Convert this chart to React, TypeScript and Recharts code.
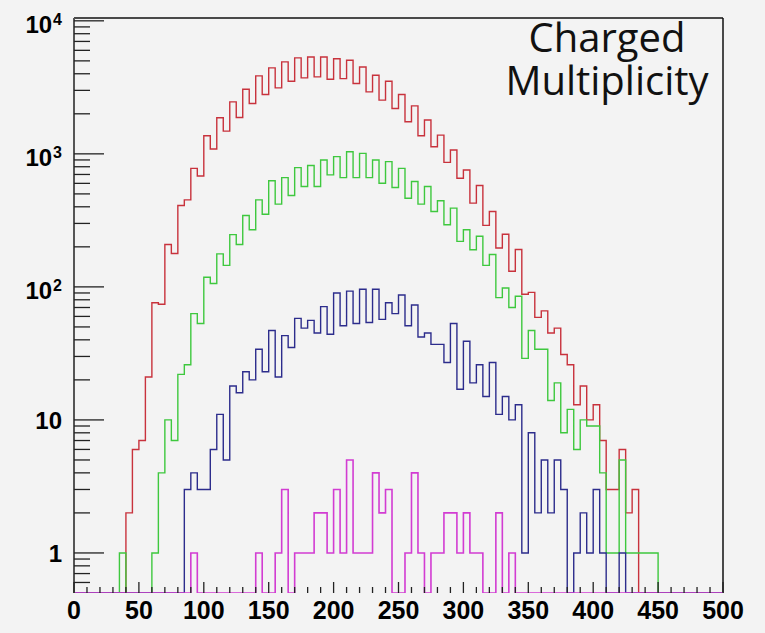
import React from "react";
import { LineChart, Line, XAxis, YAxis, ReferenceLine } from "recharts";

// Bin lower edges: 0, 5, 10, ..., 495 (100 bins of width 5)
const BIN_WIDTH = 5;
const N_BINS = 100;

const redCounts = [
  0, 0, 0, 0, 0, 0, 0, 0, 2, 6,
  7, 21, 76, 74, 208, 178, 409, 451, 778, 682,
  1368, 1088, 1866, 1483, 2460, 1876, 3063, 2390, 3855, 2790,
  4425, 3134, 4910, 3516, 5262, 3722, 5350, 3787, 5350, 3640,
  5190, 3680, 5050, 3376, 4500, 2925, 3900, 2535, 3516, 2195,
  2793, 1742, 2296, 1368, 1795, 1132, 1384, 863, 1070, 656,
  757, 426, 578, 290, 369, 196, 249, 131, 191, 88,
  91, 59, 66, 45, 49, 31, 26, 13, 18, 10,
  13, 7, 3, 3, 6, 2, 3, 0, 0, 0,
  0, 0, 0, 0, 0, 0, 0, 0, 0, 0,
];

const greenCounts = [
  0, 0, 0, 0, 0, 0, 0, 1, 0, 0,
  0, 0, 1, 4, 10, 7, 22, 26, 63, 53,
  118, 106, 177, 145, 247, 208, 344, 269, 451, 352,
  627, 419, 663, 486, 788, 568, 817, 568, 900, 695,
  953, 663, 1038, 663, 1009, 663, 900, 601, 874, 558,
  778, 464, 619, 419, 568, 369, 444, 293, 391, 220,
  269, 190, 240, 145, 175, 83, 98, 70, 85, 29,
  47, 34, 34, 14, 19, 8, 12, 6, 10, 9,
  9, 4, 1, 1, 5, 1, 1, 1, 1, 1,
  0, 0, 0, 0, 0, 0, 0, 0, 0, 0,
];

const blueCounts = [
  0, 0, 0, 0, 0, 0, 0, 0, 0, 0,
  0, 0, 0, 0, 0, 0, 0, 3, 4, 3,
  3, 6, 11, 5, 18, 16, 23, 20, 34, 23,
  47, 21, 43, 35, 58, 49, 56, 45, 71, 44,
  90, 51, 93, 53, 96, 54, 96, 57, 76, 63,
  87, 51, 73, 42, 45, 37, 37, 27, 53, 17,
  39, 19, 26, 15, 27, 11, 15, 10, 13, 1,
  8, 2, 5, 2, 5, 3, 0, 1, 2, 1,
  3, 1, 0, 0, 1, 0, 0, 0, 0, 0,
  0, 0, 0, 0, 0, 0, 0, 0, 0, 0,
];

const magentaCounts = [
  0, 0, 0, 0, 0, 0, 0, 0, 0, 0,
  0, 0, 0, 0, 0, 0, 0, 0, 1, 0,
  0, 0, 0, 0, 0, 0, 0, 0, 1, 0,
  0, 1, 3, 0, 1, 1, 1, 2, 2, 1,
  3, 1, 5, 1, 1, 1, 4, 2, 3, 0,
  0, 1, 4, 1, 0, 1, 1, 2, 2, 1,
  2, 1, 1, 0, 0, 2, 0, 1, 0, 0,
  0, 0, 0, 0, 0, 0, 0, 0, 0, 0,
  0, 0, 0, 0, 0, 0, 0, 0, 0, 0,
  0, 0, 0, 0, 0, 0, 0, 0, 0, 0,
];

const xTicks = [0, 10, 20, 30, 40, 50, 60, 70, 80, 90, 100, 110, 120, 130, 140, 150, 160, 170, 180, 190, 200,
  210, 220, 230, 240, 250, 260, 270, 280, 290, 300, 310, 320, 330, 340, 350, 360, 370, 380, 390, 400,
  410, 420, 430, 440, 450, 460, 470, 480, 490, 500];
const xLabelTicks = [0, 50, 100, 150, 200, 250, 300, 350, 400, 450, 500];

const yMajorTicks = [1, 10, 100, 1000, 10000];
const yMinorFactors = [2, 3, 4, 5, 6, 7, 8, 9];
const yTicks = [0.6, 0.7, 0.8, 0.9,
  ...yMajorTicks.flatMap((m) => [m, ...(m < 10000 ? yMinorFactors.map((f) => f * m) : [])])];

const Y_MIN = 0.5;
const Y_MAX = 10500;

const titleLines = ["Charged", "Multiplicity"];

const floorLog = (v: number) => (v > 0 ? v : Y_MIN);

const data = Array.from({ length: N_BINS + 1 }, (_, i) => {
  const k = Math.min(i, N_BINS - 1);
  return {
    x: i * BIN_WIDTH,
    red: floorLog(redCounts[k]),
    green: floorLog(greenCounts[k]),
    blue: floorLog(blueCounts[k]),
    magenta: floorLog(magentaCounts[k]),
  };
});

const FONT = "'Liberation Sans', Arial, Helvetica, sans-serif";

const YTick = (props: any) => {
  const { x, y, payload } = props;
  const v = payload.value as number;
  const lg = Math.log10(v);
  const exp = Math.round(lg);
  const isMajor = Math.abs(lg - exp) < 1e-6;
  const len = isMajor ? 30 : 16;
  let label: React.ReactNode = null;
  if (isMajor) {
    if (exp <= 1) {
      label = (
        <text x={x - 12} y={y + 9} textAnchor="end" fontFamily={FONT} fontWeight="bold" fontSize={24} fill="#000">
          {exp === 0 ? "1" : "10"}
        </text>
      );
    } else {
      label = (
        <text x={x - 12} y={y + 12} textAnchor="end" fontFamily={FONT} fontWeight="bold" fontSize={24} fill="#000">
          10
          <tspan fontSize={16} dx={1} dy={-8}>{String(exp)}</tspan>
        </text>
      );
    }
  }
  return (
    <g>
      <line x1={x} y1={y} x2={x + len} y2={y} stroke="#222" strokeWidth={1.3} />
      {label}
    </g>
  );
};

const XTick = (props: any) => {
  const { x, y, payload } = props;
  const v = payload.value as number;
  const isMajor = xLabelTicks.includes(v);
  const len = isMajor ? 11 : 6;
  return (
    <g>
      <line x1={x} y1={y} x2={x} y2={y - len} stroke="#222" strokeWidth={1.3} />
      {isMajor && (
        <text x={x} y={y + 26} textAnchor="middle" fontFamily={FONT} fontWeight="bold" fontSize={25} fill="#000">
          {String(v)}
        </text>
      )}
    </g>
  );
};

export default function App() {
  return (
    <div style={{ position: "absolute", left: 0, top: 0, width: 765, height: 633, background: "#f3f3f3" }}>
      <LineChart width={765} height={633} data={data} margin={{ top: 18, right: 42, left: 0, bottom: 0 }}>
        <XAxis
          dataKey="x"
          type="number"
          domain={[0, 500]}
          ticks={xTicks}
          interval={0}
          tick={<XTick />}
          tickLine={false}
          tickSize={0}
          tickMargin={0}
          height={40}
          axisLine={false}
          allowDataOverflow
        />
        <YAxis
          type="number"
          scale="log"
          domain={[Y_MIN, Y_MAX]}
          ticks={yTicks}
          interval={0}
          tick={<YTick />}
          tickLine={false}
          tickSize={0}
          tickMargin={0}
          width={74}
          axisLine={{ stroke: "#555", strokeWidth: 2 }}
          allowDataOverflow
        />
        <ReferenceLine y={Y_MAX} stroke="#111" strokeWidth={1.5} />
        <ReferenceLine x={500} stroke="#111" strokeWidth={1.5} />
        <Line type="stepAfter" dataKey="red" stroke="#c8323c" strokeWidth={1.4} dot={false} isAnimationActive={false} />
        <Line type="stepAfter" dataKey="green" stroke="#3ec83e" strokeWidth={1.4} dot={false} isAnimationActive={false} />
        <Line type="stepAfter" dataKey="blue" stroke="#2c2c8c" strokeWidth={1.4} dot={false} isAnimationActive={false} />
        <Line type="stepAfter" dataKey="magenta" stroke="#d23cd2" strokeWidth={1.6} dot={false} isAnimationActive={false} />
      </LineChart>
      <svg width={765} height={633} style={{ position: "absolute", left: 0, top: 0, pointerEvents: "none" }}>
        <text textAnchor="middle" fontFamily="'Open Sans', sans-serif" fontSize={40} fill="#111">
          <tspan x={607} y={52}>{titleLines[0]}</tspan>
          <tspan x={607} y={95}>{titleLines[1]}</tspan>
        </text>
      </svg>
    </div>
  );
}
